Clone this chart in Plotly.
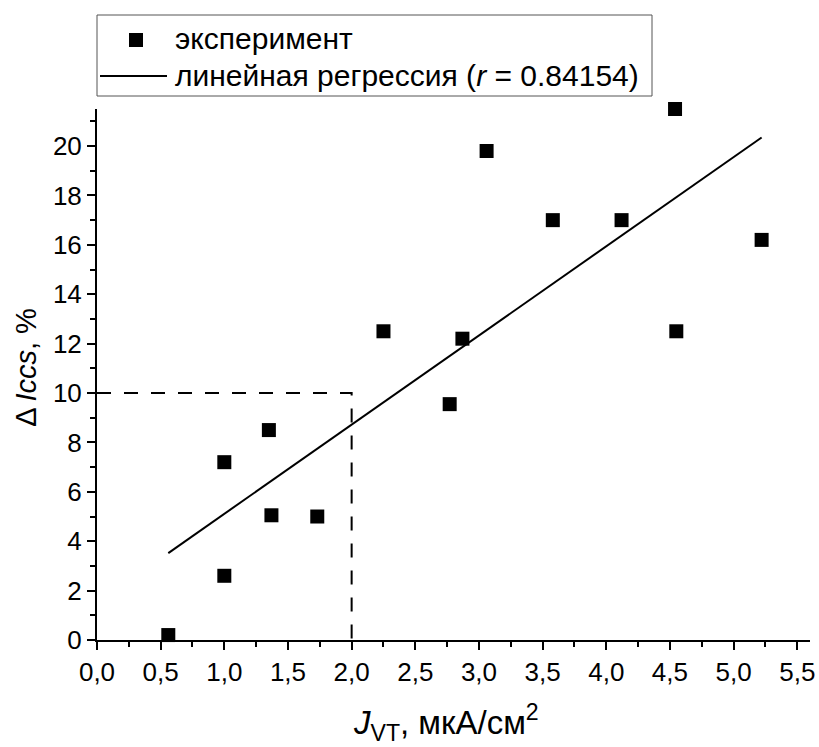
import numpy as np
import plotly.graph_objects as go

j_vt = [0.56, 1.00, 1.00, 1.35, 1.37, 1.73, 2.25, 2.77, 2.87, 3.06, 3.58, 4.12, 4.54, 4.55, 5.22]
d_iccs = [0.2, 7.2, 2.6, 8.5, 5.05, 5.0, 12.5, 9.55, 12.2, 19.8, 17.0, 17.0, 21.5, 12.5, 16.2]

# Threshold guide (dashed)
guide_x = [0.0, 2.0, 2.0]
guide_y = [10.0, 10.0, 0.0]

# Legend labels
legend_labels = ["эксперимент", "линейная регрессия (<i>r</i> = 0.84154)"]

# Linear regression
slope, intercept = np.polyfit(j_vt, d_iccs, 1)
fit_x = [min(j_vt), max(j_vt)]
fit_y = [slope * x + intercept for x in fit_x]

FONT = "Liberation Sans, Arial, sans-serif"
W, H = 819, 747
ML, MR, MT, MB = 97, 9, 109, 107
PW, PH = W - ML - MR, H - MT - MB


def px(xp):
    return (xp - ML) / PW


def py(yp):
    return (H - MB - yp) / PH


fig = go.Figure()
fig.add_trace(go.Scatter(
    x=j_vt, y=d_iccs, mode="markers", name=legend_labels[0],
    marker=dict(symbol="square", size=14, color="black"),
    cliponaxis=False, showlegend=False,
))
fig.add_trace(go.Scatter(
    x=fit_x, y=fit_y, mode="lines", name=legend_labels[1],
    line=dict(color="black", width=2), showlegend=False,
))
fig.add_trace(go.Scatter(
    x=guide_x, y=guide_y, mode="lines", showlegend=False,
    line=dict(color="black", width=2, dash="14px,13px"),
))

shapes = [
    # legend frame
    dict(type="rect", xref="paper", yref="paper", x0=px(97), x1=px(652), y0=py(96), y1=py(15),
         line=dict(color="#555555", width=1), fillcolor="white", layer="above"),
    # legend marker
    dict(type="rect", xref="paper", yref="paper", x0=px(129), x1=px(143), y0=py(47), y1=py(33),
         line=dict(width=0), fillcolor="black", layer="above"),
    # legend line
    dict(type="line", xref="paper", yref="paper", x0=px(100), x1=px(167), y0=py(76), y1=py(76),
         line=dict(color="black", width=2), layer="above"),
]

annotations = [
    dict(text=legend_labels[0], xref="paper", yref="paper", x=px(173), y=py(39),
         xanchor="left", yanchor="middle", showarrow=False, font=dict(family=FONT, size=30)),
    dict(text=legend_labels[1], xref="paper", yref="paper", x=px(173), y=py(75),
         xanchor="left", yanchor="middle", showarrow=False, font=dict(family=FONT, size=30)),
    dict(text="<i>J</i><sub>VT</sub>, мкА/см<sup>2</sup>", xref="paper", yref="paper",
         x=0.49, y=-0.155, xanchor="center", yanchor="middle", showarrow=False,
         font=dict(family=FONT, size=33)),
    dict(text="Δ\u2009<i>Iccs</i>, %", xref="paper", yref="paper",
         x=-0.1, y=0.514, xanchor="center", yanchor="middle", textangle=-90, showarrow=False,
         font=dict(family=FONT, size=29)),
]

fig.update_layout(
    width=W, height=H,
    margin=dict(l=ML, r=MR, t=MT, b=MB),
    paper_bgcolor="white", plot_bgcolor="white",
    font=dict(family=FONT, size=26, color="black"),
    separators=",.",
    showlegend=False,
    xaxis=dict(
        range=[0, 5.6], dtick=0.5, tick0=0, tickformat=".1f",
        showgrid=False, zeroline=False, automargin=False,
        showline=True, linecolor="black", linewidth=2,
        ticks="outside", ticklen=8, tickwidth=2, tickcolor="black",
        minor=dict(dtick=0.25, ticks="outside", ticklen=5, tickwidth=2, tickcolor="black", showgrid=False),
        tickfont=dict(family=FONT, size=26),
    ),
    yaxis=dict(
        range=[0, 21.5], dtick=2, tick0=0,
        showgrid=False, zeroline=False, automargin=False,
        showline=True, linecolor="black", linewidth=2,
        ticks="outside", ticklen=8, tickwidth=2, tickcolor="black",
        minor=dict(dtick=1, ticks="outside", ticklen=5, tickwidth=2, tickcolor="black", showgrid=False),
        tickfont=dict(family=FONT, size=26),
    ),
    shapes=shapes,
    annotations=annotations,
)

fig.write_html("out.html", config={"displayModeBar": False},
               post_script="document.body.style.margin='0';document.body.style.padding='0';")
